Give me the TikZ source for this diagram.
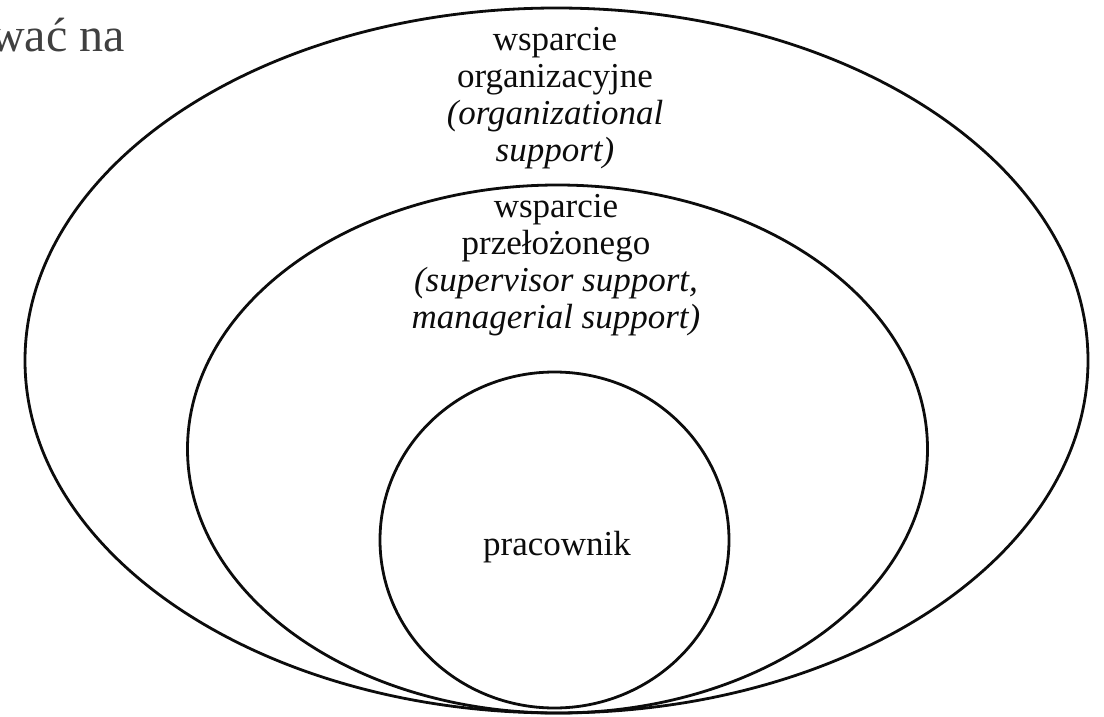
\documentclass[tikz,border=0pt]{standalone}
\usepackage{fontspec}
\setmainfont{Liberation Serif}
\definecolor{ringblack}{RGB}{12,12,12}
\definecolor{leadgray}{RGB}{64,64,64}
\newcommand{\supportring}[4]{%
  \draw[ringblack,line width=2.8pt]
    (#1,#2) ellipse[x radius=#3pt,y radius=#4pt];%
}
\tikzset{ringlabel/.style={anchor=base,align=center,inner sep=0pt,
  text=ringblack,font=\rmfamily\fontsize{35}{37}\selectfont}}

\begin{document}
\begin{tikzpicture}[x=1pt,y=-1pt]
  \useasboundingbox (0,0) rectangle (1104,717);
  \clip (0,0) rectangle (1104,717);
  \node[anchor=base east,inner sep=0pt,text=leadgray,
    font=\rmfamily\fontsize{48}{50}\selectfont] (lead) at (125,52) {wać na};

  \supportring{556.5}{360.5}{531.5}{352.5}
  \supportring{557.5}{449}{370}{264}
  \supportring{554.5}{540}{174.5}{168}

  % base anchor sits on the last line
  \node[ringlabel] (orglabel) at (555,161)
    {wsparcie\\organizacyjne\\\textit{(organizational}\\\textit{support)}};
  \node[ringlabel] (suplabel) at (556,328)
    {wsparcie\\przełożonego\\\textit{(supervisor support,}\\\textit{managerial support)}};
  \node[ringlabel] (worker) at (557,555) {pracownik};
\end{tikzpicture}
\end{document}
